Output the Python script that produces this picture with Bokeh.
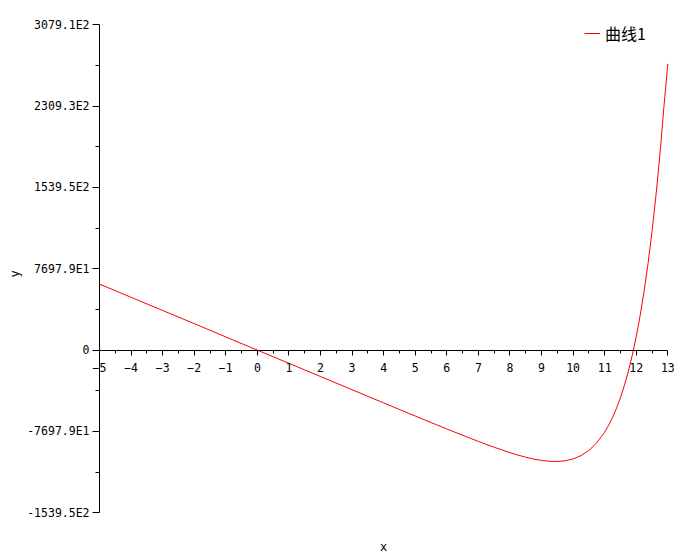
import math
from bokeh.plotting import figure
from bokeh.models import LinearAxis, FixedTicker, Range1d, Label
from bokeh.embed import file_html
from bokeh.resources import INLINE

# data
x_vals = [-5, -4, -3, -2, -1, 0, 1, 2, 3, 4, 5, 6, 7, 7.5, 8, 8.25, 8.5, 8.75,
          9, 9.25, 9.5, 9.75, 10, 10.25, 10.5, 10.75, 11, 11.125, 11.25, 11.375,
          11.5, 11.625, 11.75, 11.875, 12, 12.125, 12.25, 12.375, 12.5, 12.625,
          12.75, 12.875, 13]
y_vals = [62500, 50000, 37550, 25100, 12500, 0, -12500, -24990, -37480, -49950,
          -62350, -74600, -86400, -91940, -97000, -99300, -101300, -103070,
          -104400, -105220, -105400, -104720, -103000, -99840, -94900, -87750,
          -77600, -71210, -63700, -55070, -45000, -33450, -20100, -4800, 12750,
          32870, 55900, 82120, 112100, 146260, 185200, 229490, 271000]

y_ticks = [-153950, -76979, 0, 76979, 153950, 230930, 307910]
y_tick_labels = ["-1539.5E2", "-7697.9E1", "0", "7697.9E1", "1539.5E2",
                 "2309.3E2", "3079.1E2"]
x_ticks = list(range(-5, 14))
series_name = "曲线1"
x_title, y_title = "x", "y"

FONT = "DejaVu Sans Mono"

# layout (pixels); the frame covers the whole canvas
W, H = 698, 558
AX_LEFT_PX, AX_RIGHT_PX = 99, 30.7    # canvas edge -> first / last x tick
AX_TOP_PX, AX_BOTTOM_PX = 24.3, 45.7  # canvas edge -> top / bottom y tick
XTITLE_BELOW_PX = 33.7                # bottom y tick -> x title centre
YTITLE_LEFT_PX = 84.5                 # y axis -> y title centre
YTITLE_UP_PX = 239                    # bottom y tick -> y title centre
xspan = x_ticks[-1] - x_ticks[0]
xu = xspan / (W - AX_LEFT_PX - AX_RIGHT_PX)
yspan = y_ticks[-1] - y_ticks[0]
yu = yspan / (H - AX_TOP_PX - AX_BOTTOM_PX)

p = figure(width=W, height=H,
           x_range=Range1d(x_ticks[0] - AX_LEFT_PX * xu, x_ticks[-1] + AX_RIGHT_PX * xu),
           y_range=Range1d(y_ticks[0] - AX_BOTTOM_PX * yu, y_ticks[-1] + AX_TOP_PX * yu),
           x_axis_type=None, y_axis_type=None,
           output_backend="svg", toolbar_location=None,
           min_border_left=0, min_border_right=0,
           min_border_top=0, min_border_bottom=0)
p.outline_line_color = None
p.background_fill_color = "white"
p.border_fill_color = "white"

p.line(x_vals, y_vals, line_color="red", line_width=1, legend_label=series_name)

# y axis at x = -5
y_minor = [(a + b) / 2 for a, b in zip(y_ticks[:-1], y_ticks[1:])]
yaxis = LinearAxis(ticker=FixedTicker(ticks=y_ticks, minor_ticks=y_minor),
                   fixed_location=x_ticks[0], bounds=(y_ticks[0], y_ticks[-1]))
yaxis.major_label_overrides = {t: s for t, s in zip(y_ticks, y_tick_labels)}
yaxis.major_tick_out = 7
yaxis.major_tick_in = 0
yaxis.minor_tick_out = 4
yaxis.minor_tick_in = 0
yaxis.major_label_standoff = 3
yaxis.major_label_text_font = FONT
yaxis.major_label_text_font_size = "11.5px"
yaxis.major_label_text_color = "black"
yaxis.axis_line_color = "black"
yaxis.major_tick_line_color = "black"
yaxis.minor_tick_line_color = "black"
p.add_layout(yaxis, "left")

# x axis crossing at y = 0
x_minor = [t + 0.5 for t in x_ticks[:-1]]
xaxis = LinearAxis(ticker=FixedTicker(ticks=x_ticks, minor_ticks=x_minor),
                   fixed_location=0, bounds=(x_ticks[0], x_ticks[-1]))
xaxis.major_tick_out = 5
xaxis.major_tick_in = 0
xaxis.minor_tick_out = 3
xaxis.minor_tick_in = 0
xaxis.major_label_standoff = 8
xaxis.major_label_text_font = FONT
xaxis.major_label_text_font_size = "11.5px"
xaxis.major_label_text_color = "black"
xaxis.axis_line_color = "black"
xaxis.major_tick_line_color = "black"
xaxis.minor_tick_line_color = "black"
p.add_layout(xaxis, "below")

# axis titles
p.add_layout(Label(x=(x_ticks[0] + x_ticks[-1]) / 2,
                   y=y_ticks[0] - XTITLE_BELOW_PX * yu,
                   text=x_title, text_align="center", text_baseline="middle",
                   text_font=FONT, text_font_size="12px", text_color="black"))
p.add_layout(Label(x=x_ticks[0] - YTITLE_LEFT_PX * xu,
                   y=y_ticks[0] + YTITLE_UP_PX * yu,
                   text=y_title, angle=math.pi / 2,
                   text_align="center", text_baseline="middle",
                   text_font=FONT, text_font_size="12px", text_color="black"))

leg = p.legend[0]
leg.location = (584, 485 + 28)
leg.border_line_color = None
leg.background_fill_alpha = 0
leg.padding = 0
leg.margin = 0
leg.spacing = 0
leg.glyph_width = 16
leg.glyph_height = 16
leg.label_standoff = 5
leg.label_text_font = "Noto Sans CJK SC"
leg.label_text_font_size = "16px"
leg.label_text_color = "black"

open("out.html", "w").write(file_html(p, INLINE))
